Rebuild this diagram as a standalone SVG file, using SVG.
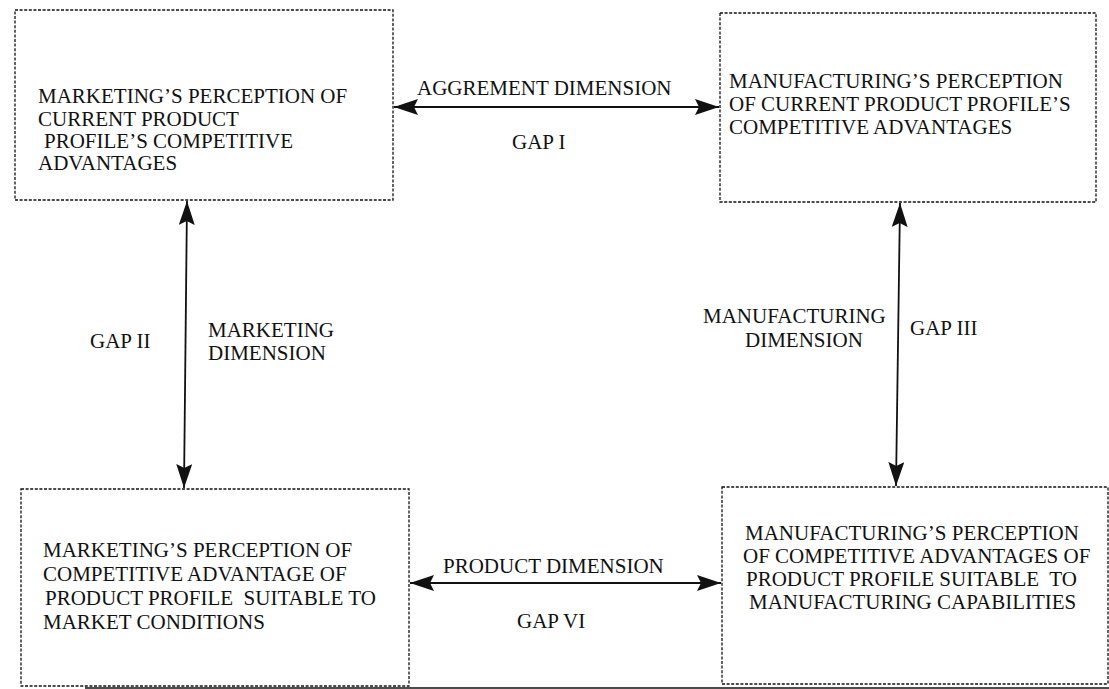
<svg xmlns="http://www.w3.org/2000/svg" width="1109" height="689" viewBox="0 0 1109 689">
<style>
.box{fill:#fff;stroke:#111;stroke-width:1.3;stroke-dasharray:3 1.6}
.t{font-family:"Liberation Serif","Times New Roman",serif;font-size:21px;fill:#111}
.c{stroke:#111;stroke-width:1.8;fill:none;marker-start:url(#ah);marker-end:url(#ah)}
</style>
<defs>
<marker id="ah" viewBox="0 0 24 16" refX="24" refY="8" markerWidth="24" markerHeight="16" markerUnits="userSpaceOnUse" orient="auto-start-reverse">
<path d="M0,0 L24,8 L0,16 L4,8 Z" fill="#111"/>
</marker>
</defs>
<rect width="1109" height="689" fill="#fff"/>
<g id="n1">
<rect class="box" x="15" y="10" width="378" height="190"/>
<text class="t" x="38" y="103">MARKETING’S PERCEPTION OF</text>
<text class="t" x="38" y="126">CURRENT PRODUCT</text>
<text class="t" x="44" y="148">PROFILE’S COMPETITIVE</text>
<text class="t" x="38" y="170">ADVANTAGES</text>
</g>
<g id="n2">
<rect class="box" x="720" y="13" width="376" height="189"/>
<text class="t" x="729" y="88">MANUFACTURING’S PERCEPTION</text>
<text class="t" x="729" y="111">OF CURRENT PRODUCT PROFILE’S</text>
<text class="t" x="729" y="134">COMPETITIVE ADVANTAGES</text>
</g>
<g id="n3">
<rect class="box" x="21" y="489" width="388" height="197"/>
<text class="t" x="43" y="557">MARKETING’S PERCEPTION OF</text>
<text class="t" x="43" y="581">COMPETITIVE ADVANTAGE OF</text>
<text class="t" x="45" y="605" xml:space="preserve">PRODUCT PROFILE  SUITABLE TO</text>
<text class="t" x="43" y="629">MARKET CONDITIONS</text>
</g>
<g id="n4">
<rect class="box" x="722" y="487" width="386" height="197"/>
<text class="t" x="745" y="540">MANUFACTURING’S PERCEPTION</text>
<text class="t" x="743" y="563">OF COMPETITIVE ADVANTAGES OF</text>
<text class="t" x="746" y="586" xml:space="preserve">PRODUCT PROFILE SUITABLE  TO</text>
<text class="t" x="749" y="609">MANUFACTURING CAPABILITIES</text>
</g>
<g id="connectors">
<line class="c" x1="394" y1="107" x2="719" y2="107"/>
<line class="c" x1="187" y1="201" x2="184" y2="488"/>
<line class="c" x1="900" y1="203" x2="896" y2="486"/>
<line class="c" x1="410" y1="583" x2="721" y2="583"/>
</g>
<g id="labels">
<text class="t" x="417" y="95">AGGREMENT DIMENSION</text>
<text class="t" x="512" y="149">GAP I</text>
<text class="t" x="90" y="348">GAP II</text>
<text class="t" x="208" y="337">MARKETING</text>
<text class="t" x="208" y="360">DIMENSION</text>
<text class="t" x="703" y="323">MANUFACTURING</text>
<text class="t" x="745" y="347">DIMENSION</text>
<text class="t" x="910" y="335">GAP III</text>
<text class="t" x="443" y="573">PRODUCT DIMENSION</text>
<text class="t" x="517" y="628">GAP VI</text>
</g>
<line x1="85" y1="688" x2="1109" y2="688" stroke="#111" stroke-width="1.5"/>
</svg>
